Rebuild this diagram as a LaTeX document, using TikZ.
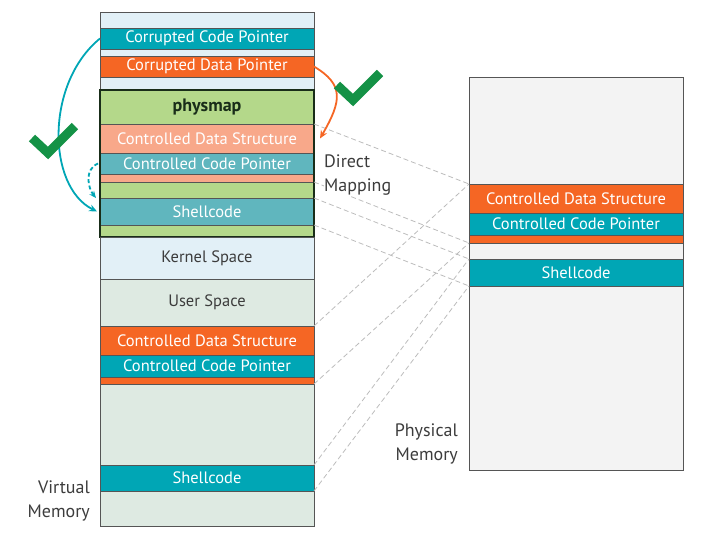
\documentclass[tikz,border=0pt]{standalone}
\usepackage{fontspec}
\setmainfont{PT Sans}
\usetikzlibrary{arrows.meta, positioning}
\definecolor{CodeTeal}{RGB}{0,166,181}
\definecolor{DataOrange}{RGB}{245,102,36}
\definecolor{VirtBlue}{RGB}{226,240,247}
\definecolor{UserGreen}{RGB}{222,234,226}
\definecolor{MapGreen}{RGB}{180,216,138}
\definecolor{MapSalmon}{RGB}{248,168,138}
\definecolor{MapTeal}{RGB}{96,182,190}
\definecolor{PhysGray}{RGB}{243,243,243}
\definecolor{FrameGray}{RGB}{85,85,85}
\definecolor{PhysFrame}{RGB}{25,45,25}
\definecolor{CheckGreen}{RGB}{20,146,70}
\definecolor{TextGray}{RGB}{60,60,60}
\definecolor{MapGray}{RGB}{188,188,188}

\tikzset{
  band/.style={draw=FrameGray, line width=0.8pt, minimum width=214pt, inner sep=0pt, outer sep=0pt,
               anchor=north west, text=white, font=\fontsize{16.5}{18}\selectfont},
  mapline/.style={draw=MapGray, line width=0.8pt, dash pattern=on 5pt off 3pt},
  sidelabel/.style={text=TextGray, font=\fontsize{18}{24}\selectfont, inner sep=0pt},
  okmark/.pic={\draw[CheckGreen, line width=9pt, miter limit=10] (-16,-15) -- (0,0) -- (27,-27);}
}

\begin{document}
\begin{tikzpicture}[x=1pt, y=-1pt]
\useasboundingbox (0,0) rectangle (701,546);

% --- memoria virtual ---
\node[band, fill=VirtBlue, minimum height=16pt] (vtop) at (100,12) {};
\node[band, fill=CodeTeal, minimum height=21pt, below=0pt of vtop] (ccp0) {Corrupted Code Pointer};
\node[band, fill=VirtBlue, minimum height=7pt, below=0pt of ccp0] (vgap) {};
\node[band, fill=DataOrange, minimum height=21pt, below=0pt of vgap] (cdp0) {Corrupted Data Pointer};
\node[band, fill=VirtBlue, minimum height=13pt, below=0pt of cdp0] (vgap2) {};

% --- physmap ---
\node[band, fill=MapGreen, minimum height=34pt, below=0pt of vgap2, text=PhysFrame,
      font=\fontsize{18}{20}\selectfont\bfseries] (pmhead) {physmap};
\node[band, fill=MapSalmon, minimum height=29pt, below=0pt of pmhead] (pcds) {Controlled Data Structure};
\node[band, fill=MapTeal, minimum height=21pt, below=0pt of pcds] (pccp) {Controlled Code Pointer};
\node[band, fill=MapSalmon, minimum height=8pt, below=0pt of pccp] (psal) {};
\node[band, fill=MapGreen, minimum height=16pt, below=0pt of psal] (pgreen) {};
\node[band, fill=MapTeal, minimum height=27pt, below=0pt of pgreen] (psh) {Shellcode};
\node[band, fill=MapGreen, minimum height=12pt, below=0pt of psh] (pgreen2) {};
\draw[PhysFrame, line width=2.5pt] (pmhead.north west) rectangle (pgreen2.south east);

% --- kernel / user ---
\node[band, fill=VirtBlue, minimum height=42pt, below=0pt of pgreen2, text=TextGray] (kern)
    {\raisebox{-5pt}{Kernel Space}};
\node[band, fill=UserGreen, minimum height=47pt, below=0pt of kern, text=TextGray] (user)
    {\raisebox{3pt}{User Space}};
\node[band, fill=DataOrange, minimum height=29pt, below=0pt of user] (ucds) {Controlled Data Structure};
\node[band, fill=CodeTeal, minimum height=22pt, below=0pt of ucds] (uccp) {Controlled Code Pointer};
\node[band, fill=DataOrange, minimum height=7pt, below=0pt of uccp] (uor) {};
\node[band, fill=UserGreen, minimum height=81pt, below=0pt of uor] (ugap) {};
\node[band, fill=CodeTeal, minimum height=26pt, below=0pt of ugap] (ush) {Shellcode};
\node[band, fill=UserGreen, minimum height=35pt, below=0pt of ush] (ubot) {};

% --- memoria fisica ---
\node[band, fill=PhysGray, minimum height=393pt] (physmem) at (469,77) {};
\node[band, fill=DataOrange, minimum height=29pt] (pcds2) at (469,184) {Controlled Data Structure};
\node[band, fill=CodeTeal, minimum height=22pt, below=0pt of pcds2] (pccp2) {Controlled Code Pointer};
\node[band, fill=DataOrange, minimum height=8pt, below=0pt of pccp2] (por2) {};
\node[band, fill=CodeTeal, minimum height=27pt] (psh2) at (469,259) {Shellcode};

% --- lineas de mapeo ---
\draw[mapline] (pcds.north east) -- (pcds2.north west);
\draw[mapline] (psal.south east) -- (por2.south west);
\draw[mapline] (psh.north east) -- (psh2.north west);
\draw[mapline] (psh.south east) -- (psh2.south west);
\draw[mapline] (ucds.north east) -- (pcds2.north west);
\draw[mapline] (uor.south east) -- (por2.south west);
\draw[mapline] (ush.north east) -- (psh2.north west);
\draw[mapline] (ush.south east) -- (psh2.south west);

% --- etiquetas ---
\node[sidelabel, fill=white, align=left, anchor=north west] (direct) at (324,155) {Direct\\Mapping};
\node[sidelabel, align=right, anchor=north east] (physlbl) at (458,424) {Physical\\Memory};
\node[sidelabel, align=right, anchor=north east] (virtlbl) at (90,481) {Virtual\\Memory};

% --- flechas ---
\draw[CodeTeal, line width=1.8pt, -{Stealth[length=8pt, width=7pt]}]
    (ccp0.west) .. controls +(-55,45) and +(-50,-25) .. ([xshift=-3pt]psh.west);
\draw[CodeTeal, line width=1.8pt, dash pattern=on 4pt off 2.5pt, -{Stealth[length=7pt, width=6pt]}]
    ([xshift=-2pt]pccp.west) .. controls +(-14,6) and +(-8,-10) .. ([xshift=-4pt]psh.north west);
\draw[DataOrange, line width=1.8pt, -{Stealth[length=8pt, width=7pt]}]
    (cdp0.east) .. controls +(30,18) and +(22,-38) .. ([xshift=6pt]pcds.east);

% --- marcas ---
\pic at (48,153) {okmark};
\pic at (353,100) {okmark};

\end{tikzpicture}
\end{document}
